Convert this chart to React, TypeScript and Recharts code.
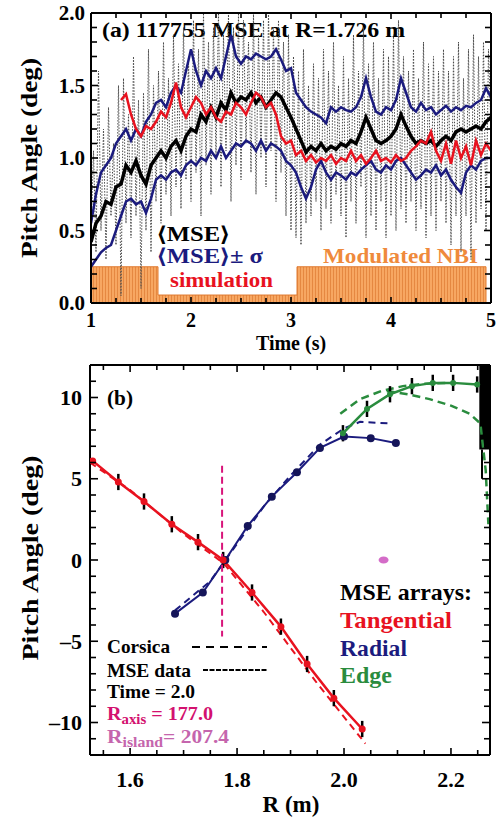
import React from "react";
import {
  ComposedChart,
  Line,
  Area,
  XAxis,
  YAxis,
  ReferenceLine,
  ReferenceArea,
  Scatter,
  ErrorBar,
} from "recharts";

const FONT = '"Liberation Serif","Times New Roman",Times,serif';
const NAVY = "#1b1b7e";
const RED = "#e8121f";
const GREEN = "#2a8c3e";
const ORANGE_TXT = "#ef8a3c";
const MAGENTA = "#d8147a";

// ---------------- Panel (a): MSE pitch angle vs time ----------------
const RAW_T0 = 1.0;
const RAW_STEP = 0.025;
const rawMSE = [
  0.45, 1.05, 0.35, 1.6, 0.5, 1.2, 0.3, 1.35, 0.6, 1.1,
  0.4, 1.5, 0.05, 1.55, 0.55, 1.3, 0.45, 1.7, 0.6, 1.4,
  0.1, 1.45, 0.5, 1.75, 0.35, 1.5, 0.7, 1.6, 0.55, 1.8,
  0.75, 1.55, 0.6, 1.85, 0.8, 1.65, 0.65, 1.9, 0.85, 1.7,
  0.7, 1.95, 0.9, 1.75, 0.6, 2.0, 0.95, 1.8, 0.75, 1.9,
  1.0, 2.0, 0.8, 1.85, 1.05, 2.0, 0.7, 1.9, 0.95, 2.0,
  0.85, 1.95, 1.1, 1.8, 0.9, 2.0, 0.75, 1.85, 1.0, 1.95,
  0.8, 2.0, 1.05, 1.9, 0.7, 1.95, 0.9, 1.8, 0.6, 1.85,
  0.5, 1.7, 0.45, 1.6, 0.4, 1.75, 0.55, 1.5, 0.6, 1.65,
  0.7, 1.55, 0.5, 1.75, 0.65, 1.6, 0.55, 1.8, 0.75, 1.5,
  0.6, 1.7, 0.45, 1.55, 0.7, 1.85, 0.55, 1.6, 0.8, 1.9,
  0.45, 1.65, 0.6, 1.8, 0.5, 1.55, 0.7, 1.75, 0.45, 1.7,
  0.6, 1.85, 0.5, 1.95, 0.65, 1.7, 0.55, 1.6, 0.7, 1.75,
  0.5, 1.55, 0.65, 1.8, 0.45, 1.65, 0.6, 1.7, 0.5, 1.6,
  0.7, 1.75, 0.55, 1.6, 0.4, 1.7, 0.6, 1.8, 0.35, 1.55,
  0.6, 1.75, 0.3, 1.85, 0.55, 1.7, 0.65, 1.8, 0.5, 1.75,
  1.2,
];

const GRID_T0 = 1.0;
const GRID_STEP = 0.05;
const meanMSE = [
  0.42, 0.55, 0.6, 0.7, 0.68, 0.8, 0.82, 0.95, 0.9, 0.98,
  0.88, 0.82, 0.95, 1.0, 1.05, 1.0, 1.08, 1.12, 1.05, 1.15,
  1.2, 1.18, 1.3, 1.25, 1.35, 1.28, 1.38, 1.33, 1.45, 1.38,
  1.42, 1.4, 1.45, 1.38, 1.42, 1.35, 1.4, 1.45, 1.42, 1.35,
  1.28, 1.2, 1.12, 1.04, 1.08, 1.05, 1.1, 1.05, 1.08, 1.06,
  1.1, 1.08, 1.12, 1.1, 1.18, 1.28, 1.2, 1.12, 1.1, 1.12,
  1.15, 1.2, 1.3, 1.22, 1.15, 1.1, 1.12, 1.1, 1.12, 1.08,
  1.12, 1.15, 1.12, 1.18, 1.2, 1.18, 1.2, 1.22, 1.2, 1.25,
  1.28,
];
const upperMSE = [
  0.55, 0.75, 0.9, 0.95, 1.0, 1.1, 1.15, 1.2, 1.12, 1.2,
  1.15, 1.25, 1.3, 1.38, 1.4, 1.35, 1.45, 1.5, 1.45, 1.6,
  1.75, 1.6, 1.5, 1.6, 1.55, 1.62, 1.55, 1.7, 1.85, 1.7,
  1.65, 1.7, 1.68, 1.72, 1.7, 1.68, 1.7, 1.75, 1.68, 1.6,
  1.62, 1.45, 1.4, 1.35, 1.32, 1.3, 1.28, 1.24, 1.35, 1.32,
  1.35, 1.33, 1.32, 1.35, 1.42, 1.55, 1.42, 1.32, 1.3, 1.35,
  1.33, 1.4, 1.55, 1.45, 1.35, 1.32, 1.38, 1.33, 1.35, 1.3,
  1.33, 1.36, 1.32, 1.35, 1.33, 1.36, 1.35, 1.38, 1.4, 1.48,
  1.42,
];
const lowerMSE = [
  0.25, 0.3, 0.35, 0.38, 0.4, 0.5, 0.6, 0.7, 0.72, 0.68,
  0.7, 0.62, 0.72, 0.85, 0.88, 0.85, 0.9, 0.92, 0.88, 0.95,
  0.98, 0.95, 1.0, 0.98, 1.05, 1.0, 1.08, 1.0, 1.05, 1.1,
  1.08, 1.12, 1.1, 1.05, 1.12, 1.05, 1.1, 1.08, 1.05, 0.98,
  0.95, 0.9, 0.8, 0.72, 0.8, 0.92, 0.98, 0.9, 0.85, 0.9,
  0.88, 0.85, 0.9, 0.88, 0.92, 0.95, 0.98, 0.92, 0.9, 0.95,
  0.92, 0.98, 1.0, 0.95, 0.9, 0.85, 0.88, 0.92, 0.9, 0.95,
  0.88, 0.92, 0.85, 0.8, 0.76, 0.9, 0.95, 0.92, 0.98, 1.0,
  1.0,
];
const simulation: (number | null)[] = [
  null, null, null, null, null, null, 1.4, 1.44, 1.3, 1.2,
  1.15, 1.22, 1.2, 1.25, 1.32, 1.28, 1.38, 1.52, 1.35, 1.28,
  1.35, 1.42, 1.38, 1.3, 1.35, 1.28, 1.25, 1.32, 1.3, 1.38,
  1.35, 1.3, 1.38, 1.45, 1.42, 1.35, 1.38, 1.3, 1.15, 1.1,
  1.12, 1.02, 1.05, 0.98, 1.02, 0.97, 1.0, 0.98, 1.02, 0.96,
  1.0, 0.98, 1.05, 0.98, 1.02, 0.96, 1.0, 1.05, 0.98, 1.0,
  0.97, 1.02, 0.98, 1.0, 1.05, 1.08, 1.12, 1.1, 1.18, 1.05,
  0.98, 1.1, 0.96, 1.12, 1.0, 1.08, 0.95, 1.12, 1.02, 1.1,
  1.05,
];
const nbiTimes = [1.0, 1.67, 3.06, 4.95, 5.0];
const nbiLevels = [0.25, 0.055, 0.25, 0, 0];

const timeTicks = [1, 1.25, 1.5, 1.75, 2, 2.25, 2.5, 2.75, 3, 3.25, 3.5, 3.75, 4, 4.25, 4.5, 4.75, 5];
const timeMajor = [1, 2, 3, 4, 5];
const pitchTicksA = [0, 0.1, 0.2, 0.3, 0.4, 0.5, 0.6, 0.7, 0.8, 0.9, 1, 1.1, 1.2, 1.3, 1.4, 1.5, 1.6, 1.7, 1.8, 1.9, 2];
const pitchMajorA = [0, 0.5, 1, 1.5, 2];

// ---------------- Panel (b): pitch angle profile vs R ----------------
const tangR = [1.53, 1.578, 1.626, 1.678, 1.727, 1.774, 1.828, 1.882, 1.931, 1.981, 2.034];
const tangMSE = [6.1, 4.8, 3.6, 2.2, 1.1, 0.0, -2.0, -4.1, -6.4, -8.5, -10.4];
const tangErr = [0, 0.5, 0.5, 0.5, 0.5, 0.5, 0.5, 0.5, 0.5, 0.5, 0.5];
const tangCorsicaR = [1.525, 1.6, 1.7, 1.775, 1.85, 1.95, 2.04];
const tangCorsica = [6.0, 4.3, 1.6, -0.2, -3.2, -7.6, -11.3];

const radR = [1.684, 1.736, 1.778, 1.82, 1.865, 1.912, 1.955, 2.0, 2.05, 2.097];
const radMSE = [-3.3, -2.0, 0.0, 2.1, 3.9, 5.4, 6.9, 7.6, 7.5, 7.2];
const radCorsicaR = [1.684, 1.75, 1.8, 1.85, 1.9, 1.955, 2.0, 2.03, 2.09];
const radCorsica = [-3.1, -1.3, 1.0, 3.3, 5.2, 7.1, 8.1, 8.5, 8.4];

const edgeR = [1.998, 2.043, 2.086, 2.127, 2.166, 2.204, 2.249];
const edgeMSE = [7.8, 9.3, 10.2, 10.7, 10.9, 10.9, 10.8];
const edgeErr = [0.5, 0.5, 0.5, 0.5, 0.5, 0.5, 0.5];
const edgeCorsicaAR = [1.993, 2.03, 2.07, 2.11, 2.15, 2.19];
const edgeCorsicaA = [9.0, 9.9, 10.4, 10.7, 10.85, 10.9];
const edgeCorsicaBR = [2.08, 2.12, 2.16, 2.2, 2.235, 2.255, 2.265, 2.27];
const edgeCorsicaB = [10.4, 10.2, 9.9, 9.5, 9.0, 8.4, 5.5, 2.2];

const rAxis = 1.772;
const rAxisSpan = [5.8, -4.7];
const islandR = [2.074];
const islandY = [0];
const edgeBlockR = [2.253, 2.273];
const edgeBlockY = [6.8, 12];

const rTicks = [1.55, 1.6, 1.65, 1.7, 1.75, 1.8, 1.85, 1.9, 1.95, 2.0, 2.05, 2.1, 2.15, 2.2, 2.25];
const rMajor = [1.6, 1.8, 2.0, 2.2];
const pitchTicksB = [-12, -11, -10, -9, -8, -7, -6, -5, -4, -3, -2, -1, 0, 1, 2, 3, 4, 5, 6, 7, 8, 9, 10, 11, 12];
const pitchMajorB = [-10, -5, 0, 5, 10];

// ---------------- build tables ----------------
const rawData = rawMSE.map((v, i) => ({ t: RAW_T0 + i * RAW_STEP, v }));
const gridT = meanMSE.map((_, i) => GRID_T0 + i * GRID_STEP);
const meanData = gridT.map((t, i) => ({ t, v: meanMSE[i] }));
const upperData = gridT.map((t, i) => ({ t, v: upperMSE[i] }));
const lowerData = gridT.map((t, i) => ({ t, v: lowerMSE[i] }));
const simData = gridT.map((t, i) => ({ t, v: simulation[i] }));
const nbiData = nbiTimes.map((t, i) => ({ t, v: nbiLevels[i] }));

const zipRY = (rs: number[], ys: number[], es?: number[]) =>
  rs.map((r, i) => ({ r, y: ys[i], e: es ? es[i] : 0 }));
const tangData = zipRY(tangR, tangMSE, tangErr);
const tangCData = zipRY(tangCorsicaR, tangCorsica);
const radData = zipRY(radR, radMSE);
const radCData = zipRY(radCorsicaR, radCorsica);
const edgeData = zipRY(edgeR, edgeMSE, edgeErr);
const edgeCAData = zipRY(edgeCorsicaAR, edgeCorsicaA);
const edgeCBData = zipRY(edgeCorsicaBR, edgeCorsicaB);
const islandData = zipRY(islandR, islandY);

// ---------------- tick renderer ----------------
type Side = "left" | "right" | "top" | "bottom";
function makeTick(
  side: Side,
  majors: number[],
  fmt: ((v: number) => string) | null,
  o: { major: number; minor: number; fontSize: number; offset: number }
) {
  return (props: any) => {
    const { x, y, payload } = props;
    const v = payload.value as number;
    const isMajor = majors.some((m) => Math.abs(m - v) < 1e-6);
    const len = isMajor ? o.major : o.minor;
    const txt = { fontFamily: FONT, fontWeight: 700, fontSize: o.fontSize, fill: "#000" } as any;
    if (side === "left")
      return (
        <g>
          <line x1={x} x2={x + len} y1={y} y2={y} stroke="#000" strokeWidth={1.6} />
          {isMajor && fmt && (
            <text x={x - o.offset} y={y} dy="0.35em" textAnchor="end" {...txt}>
              {fmt(v)}
            </text>
          )}
        </g>
      );
    if (side === "right")
      return <line x1={x} x2={x - len} y1={y} y2={y} stroke="#000" strokeWidth={1.6} />;
    if (side === "top")
      return <line x1={x} x2={x} y1={y} y2={y + len} stroke="#000" strokeWidth={1.6} />;
    return (
      <g>
        <line x1={x} x2={x} y1={y} y2={y - len} stroke="#000" strokeWidth={1.6} />
        {isMajor && fmt && (
          <text x={x} y={y + o.offset} textAnchor="middle" {...txt}>
            {fmt(v)}
          </text>
        )}
      </g>
    );
  };
}

const AX = { stroke: "#000", strokeWidth: 2 };
const bold = { fontFamily: FONT, fontWeight: 700 } as any;
const fit = { lengthAdjust: "spacingAndGlyphs" } as any;

function PanelA() {
  const tOpts = { major: 6, minor: 5, fontSize: 20, offset: 24 };
  const yOpts = { major: 7, minor: 6, fontSize: 21, offset: 6 };
  return (
    <ComposedChart width={497} height={355} margin={{ top: 0, right: 0, bottom: 0, left: 0 }}>
      <defs>
        <pattern id="nbiStripe" width="3" height="8" patternUnits="userSpaceOnUse">
          <rect width="3" height="8" fill="#f7a762" />
          <rect width="0.9" height="8" fill="#e3853d" />
        </pattern>
      </defs>
      <XAxis dataKey="t" type="number" domain={[1, 5]} allowDataOverflow ticks={timeTicks} interval={0}
        height={52} tickSize={0} tickMargin={0} axisLine={AX} tickLine={false}
        tick={makeTick("bottom", timeMajor, (v) => String(v), tOpts)} />
      <XAxis xAxisId="top" orientation="top" dataKey="t" type="number" domain={[1, 5]} allowDataOverflow
        ticks={timeTicks} interval={0} height={13} tickSize={0} tickMargin={0} axisLine={AX} tickLine={false}
        tick={makeTick("top", timeMajor, null, tOpts)} />
      <YAxis type="number" domain={[0, 2]} allowDataOverflow ticks={pitchTicksA} interval={0} width={91}
        tickSize={0} tickMargin={0} axisLine={AX} tickLine={false}
        tick={makeTick("left", pitchMajorA, (v) => v.toFixed(1), yOpts)} />
      <YAxis yAxisId="right" orientation="right" type="number" domain={[0, 2]} allowDataOverflow
        ticks={pitchTicksA} interval={0} width={6} tickSize={0} tickMargin={0} axisLine={AX} tickLine={false}
        tick={makeTick("right", pitchMajorA, null, yOpts)} />

      <Area data={nbiData} dataKey="v" type="stepAfter" fill="url(#nbiStripe)" fillOpacity={1}
        stroke="#e07a30" strokeWidth={1} isAnimationActive={false} dot={false} activeDot={false} />
      <Line data={rawData} dataKey="v" type="linear" stroke="#4a4a4a" strokeWidth={1}
        strokeDasharray="1.5 1.5" dot={false} activeDot={false} isAnimationActive={false} />
      <Line data={upperData} dataKey="v" stroke={NAVY} strokeWidth={2.5} dot={false} activeDot={false} isAnimationActive={false} />
      <Line data={lowerData} dataKey="v" stroke={NAVY} strokeWidth={2.5} dot={false} activeDot={false} isAnimationActive={false} />
      <Line data={meanData} dataKey="v" stroke="#000" strokeWidth={3.5} dot={false} activeDot={false} isAnimationActive={false} />
      <Line data={simData} dataKey="v" stroke={RED} strokeWidth={2.5} dot={false} activeDot={false} isAnimationActive={false} />

      <text x={102} y={37} fontSize={20} textLength={303} {...fit} {...bold} fill="#000">
        (a) 117755 MSE at R=1.726 m
      </text>
      <text x={157} y={241} fontSize={20} textLength={73} {...fit} {...bold} fill="#000">
        {"\u27E8MSE\u27E9"}
      </text>
      <text x={157} y={263} fontSize={20} textLength={106} {...fit} {...bold} fill={NAVY}>
        {"\u27E8MSE\u27E9\u00B1 \u03C3"}
      </text>
      <text x={170} y={287} fontSize={21} textLength={103} {...fit} {...bold} fill={RED}>
        simulation
      </text>
      <text x={323} y={263} fontSize={22} textLength={155} {...fit} {...bold} fill={ORANGE_TXT}>
        Modulated NBI
      </text>
      <text x={291} y={350} fontSize={20} textAnchor="middle" {...bold} fill="#000">
        Time (s)
      </text>
      <text transform="translate(37,158) rotate(-90)" x={0} y={0} fontSize={24} textAnchor="middle"
        textLength={200} {...fit} {...bold} fill="#000">
        Pitch Angle (deg)
      </text>
    </ComposedChart>
  );
}

function PanelB() {
  const rOpts = { major: 7, minor: 5, fontSize: 22, offset: 32 };
  const yOpts = { major: 8, minor: 6, fontSize: 22, offset: 8 };
  const fmtY = (v: number) => (v < 0 ? "\u2013" + Math.abs(v) : String(v));
  return (
    <ComposedChart width={497} height={464} margin={{ top: 0, right: 0, bottom: 0, left: 0 }}>
      <XAxis dataKey="r" type="number" domain={[1.525, 2.273]} allowDataOverflow ticks={rTicks} interval={0}
        height={64} tickSize={0} tickMargin={0} axisLine={AX} tickLine={false}
        tick={makeTick("bottom", rMajor, (v) => v.toFixed(1), rOpts)} />
      <XAxis xAxisId="top" orientation="top" dataKey="r" type="number" domain={[1.525, 2.273]} allowDataOverflow
        ticks={rTicks} interval={0} height={10} tickSize={0} tickMargin={0} axisLine={AX} tickLine={false}
        tick={makeTick("top", rMajor, null, rOpts)} />
      <YAxis type="number" domain={[-12, 12]} allowDataOverflow ticks={pitchTicksB} interval={0} width={90}
        tickSize={0} tickMargin={0} axisLine={AX} tickLine={false}
        tick={makeTick("left", pitchMajorB, fmtY, yOpts)} />
      <YAxis yAxisId="right" orientation="right" type="number" domain={[-12, 12]} allowDataOverflow
        ticks={pitchTicksB} interval={0} width={7} tickSize={0} tickMargin={0} axisLine={AX} tickLine={false}
        tick={makeTick("right", pitchMajorB, null, yOpts)} />

      <ReferenceArea x1={edgeBlockR[0]} x2={edgeBlockR[1]} y1={edgeBlockY[0]} y2={edgeBlockY[1]}
        fill="#000" fillOpacity={1} stroke="none" />
      <ReferenceLine segment={[{ x: 2.258, y: 5.0 }, { x: 2.258, y: edgeBlockY[0] }]} stroke="#000" strokeWidth={2} />

      <Line data={tangCData} dataKey="y" stroke={RED} strokeWidth={2} strokeDasharray="7 5" dot={false} activeDot={false} isAnimationActive={false} />
      <Line data={radCData} dataKey="y" stroke={NAVY} strokeWidth={2} strokeDasharray="7 5" dot={false} activeDot={false} isAnimationActive={false} />
      <Line data={edgeCAData} dataKey="y" stroke={GREEN} strokeWidth={2.5} strokeDasharray="8 5" dot={false} activeDot={false} isAnimationActive={false} />
      <Line data={edgeCBData} dataKey="y" stroke={GREEN} strokeWidth={2.5} strokeDasharray="8 5" dot={false} activeDot={false} isAnimationActive={false} />

      <Line data={radData} dataKey="y" stroke={NAVY} strokeWidth={2} dot={{ r: 4, fill: "#15155a", stroke: "none" }} activeDot={false} isAnimationActive={false} />
      <Line data={edgeData} dataKey="y" stroke={GREEN} strokeWidth={2.5} dot={{ r: 3, fill: GREEN, stroke: "none" }} activeDot={false} isAnimationActive={false}>
        <ErrorBar dataKey="e" width={0} strokeWidth={2.5} stroke="#000" direction="y" />
      </Line>
      <Line data={tangData} dataKey="y" stroke={RED} strokeWidth={2.5} dot={{ r: 3.5, fill: RED, stroke: "none" }} activeDot={false} isAnimationActive={false}>
        <ErrorBar dataKey="e" width={0} strokeWidth={2.5} stroke="#000" direction="y" />
      </Line>

      <ReferenceLine segment={[{ x: rAxis, y: rAxisSpan[0] }, { x: rAxis, y: rAxisSpan[1] }]}
        stroke={MAGENTA} strokeWidth={2} strokeDasharray="7 4" />
      <Scatter data={islandData} dataKey="y" isAnimationActive={false}
        shape={(p: any) => <ellipse cx={p.cx} cy={p.cy} rx={5} ry={3.5} fill="#d46cc8" />} />

      <text x={107} y={50} fontSize={20} textLength={26} {...fit} {...bold} fill="#000">(b)</text>

      <text x={340} y={245} fontSize={23} textLength={132} {...fit} {...bold} fill="#000">MSE arrays:</text>
      <text x={340} y={273} fontSize={23} textLength={112} {...fit} {...bold} fill={RED}>Tangential</text>
      <text x={340} y={301} fontSize={23} textLength={67} {...fit} {...bold} fill={NAVY}>Radial</text>
      <text x={340} y={328} fontSize={23} textLength={52} {...fit} {...bold} fill={GREEN}>Edge</text>

      <text x={107} y={298} fontSize={19} textLength={63} {...fit} {...bold} fill="#000">Corsica</text>
      <line x1={192} x2={267} y1={292} y2={292} stroke="#000" strokeWidth={2} strokeDasharray="8 6" />
      <text x={107} y={322} fontSize={19} textLength={84} {...fit} {...bold} fill="#000">MSE data</text>
      <line x1={203} x2={267} y1={315} y2={315} stroke="#000" strokeWidth={2} strokeDasharray="5 1.5" />
      <text x={107} y={343} fontSize={19} textLength={88} {...fit} {...bold} fill="#000">Time = 2.0</text>
      <text x={107} y={365} fontSize={19} textLength={106} {...fit} {...bold} fill="#d3116f">
        R<tspan fontSize={14} dy={4}>axis</tspan><tspan dy={-4}> = 177.0</tspan>
      </text>
      <text x={107} y={388} fontSize={19} textLength={122} {...fit} {...bold} fill="#c565ad">
        R<tspan fontSize={14} dy={4}>island</tspan><tspan dy={-4}>= 207.4</tspan>
      </text>

      <text x={291} y={457} fontSize={23} textAnchor="middle" {...bold} fill="#000">R (m)</text>
      <text transform="translate(38,203) rotate(-90)" x={0} y={0} fontSize={24} textAnchor="middle"
        textLength={205} {...fit} {...bold} fill="#000">
        Pitch Angle (deg)
      </text>
    </ComposedChart>
  );
}

export default function App() {
  return (
    <div style={{ position: "absolute", left: 0, top: 0, width: 497, height: 819, background: "#fff", overflow: "hidden" }}>
      <div style={{ position: "absolute", left: 0, top: 0 }}>
        <PanelA />
      </div>
      <div style={{ position: "absolute", left: 0, top: 355 }}>
        <PanelB />
      </div>
    </div>
  );
}
